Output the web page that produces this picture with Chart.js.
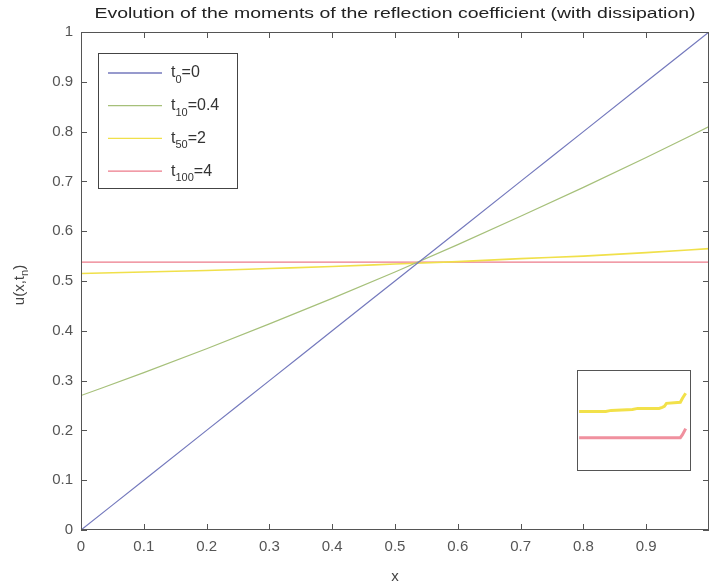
<!DOCTYPE html>
<html>
<head>
<meta charset="utf-8">
<script src="https://cdn.jsdelivr.net/npm/chart.js@4.4.1/dist/chart.umd.min.js"></script>
<style>
  html, body { margin: 0; padding: 0; background: #fff; }
  #wrap { position: relative; width: 709px; height: 588px; overflow: hidden; }
  #main { position: absolute; left: 0; top: 0; }
  #inset { position: absolute; left: 577px; top: 370px; }
</style>
</head>
<body>
<div id="wrap">
  <canvas id="main" width="709" height="588"></canvas>
  <canvas id="inset" width="114" height="101"></canvas>
</div>
<script>
// x positions shared by the main curves
const xGrid = [0, 0.1, 0.2, 0.3, 0.4, 0.5, 0.6, 0.7, 0.8, 0.9, 1];

// u(x, t_n)
const u_t0   = [0, 0.1, 0.2, 0.3, 0.4, 0.5, 0.6, 0.7, 0.8, 0.9, 1];
const u_t10  = [0.27, 0.316, 0.364, 0.414, 0.465, 0.518, 0.573, 0.63, 0.688, 0.748, 0.81];
const u_t50  = [0.515, 0.518, 0.521, 0.525, 0.529, 0.534, 0.539, 0.545, 0.55, 0.557, 0.565];
const u_t100 = [0.538, 0.538, 0.538, 0.538, 0.538, 0.538, 0.538, 0.538, 0.538, 0.538, 0.538];

const seriesSubs  = ['0', '10', '50', '100'];
const seriesTimes = ['0', '0.4', '2', '4'];
const seriesColors = ['#7479bd', '#a6c07a', '#f0e04a', '#ec7a8a'];

const xTicks = [0, 0.1, 0.2, 0.3, 0.4, 0.5, 0.6, 0.7, 0.8, 0.9, 1];
const yTicks = [0, 0.1, 0.2, 0.3, 0.4, 0.5, 0.6, 0.7, 0.8, 0.9, 1];

// zoomed view in the small box (arbitrary units)
const insetX    = [0, 0.25, 0.3, 0.5, 0.55, 0.75, 0.78, 0.8, 0.82, 0.95, 0.97, 1];
const insetT50  = [0.59, 0.59, 0.6, 0.61, 0.62, 0.62, 0.63, 0.64, 0.67, 0.68, 0.72, 0.77];
const insetT100 = [0.33, 0.33, 0.33, 0.33, 0.33, 0.33, 0.33, 0.33, 0.33, 0.33, 0.36, 0.42];

const FONT = '"Liberation Sans", Arial, sans-serif';

function pts(xs, ys) {
  return xs.map((x, i) => ({ x: x, y: ys[i] }));
}

const frame = {
  id: 'frame',
  afterDraw(chart) {
    const ctx = chart.ctx;
    const a = chart.chartArea;
    const xs = chart.scales.x, ys = chart.scales.y;
    ctx.save();
    ctx.strokeStyle = '#555';
    ctx.lineWidth = 1;
    ctx.strokeRect(a.left + 0.5, a.top + 0.5, a.right - a.left - 1, a.bottom - a.top - 1);
    ctx.beginPath();
    xTicks.forEach(v => {
      const px = Math.round(xs.getPixelForValue(v)) + 0.5;
      ctx.moveTo(px, a.bottom); ctx.lineTo(px, a.bottom - 6);
      ctx.moveTo(px, a.top); ctx.lineTo(px, a.top + 6);
    });
    yTicks.forEach(v => {
      const py = Math.round(ys.getPixelForValue(v)) + 0.5;
      ctx.moveTo(a.left, py); ctx.lineTo(a.left + 6, py);
      ctx.moveTo(a.right, py); ctx.lineTo(a.right - 6, py);
    });
    ctx.stroke();

    // title, centred over the plot
    const title = 'Evolution of the moments of the reflection coefficient (with dissipation)';
    ctx.font = '14px ' + FONT;
    ctx.fillStyle = '#222';
    ctx.textBaseline = 'middle';
    ctx.textAlign = 'center';
    const w = ctx.measureText(title).width;
    const sx = 601 / w;
    const cx = (a.left + a.right) / 2;
    ctx.save();
    ctx.translate(cx, 14);
    ctx.scale(sx, 1);
    ctx.fillText(title, 0, 0);
    ctx.restore();

    // axis labels
    ctx.fillStyle = '#444';
    ctx.font = '15px ' + FONT;
    ctx.fillText('x', cx, 577);

    ctx.save();
    ctx.translate(20, (a.top + a.bottom) / 2 + 4);
    ctx.rotate(-Math.PI / 2);
    ctx.textAlign = 'left';
    ctx.font = '15px ' + FONT;
    const p1 = 'u(x,t';
    const w1 = ctx.measureText(p1).width;
    ctx.font = '11px ' + FONT;
    const w2 = ctx.measureText('n').width;
    ctx.font = '15px ' + FONT;
    const w3 = ctx.measureText(')').width;
    let x0 = -(w1 + w2 + w3) / 2;
    ctx.fillText(p1, x0, 0);
    ctx.font = '11px ' + FONT;
    ctx.fillText('n', x0 + w1, 5);
    ctx.font = '15px ' + FONT;
    ctx.fillText(')', x0 + w1 + w2, 0);
    ctx.restore();

    // legend
    const lx = a.left + 17, ly = a.top + 21;
    const lw = 139, lh = 135;
    ctx.fillStyle = '#fff';
    ctx.fillRect(lx, ly, lw, lh);
    ctx.strokeStyle = '#444';
    ctx.strokeRect(lx + 0.5, ly + 0.5, lw, lh);
    chart.data.datasets.forEach((ds, i) => {
      const y = ly + 20 + i * 32.7;
      ctx.strokeStyle = ds.borderColor;
      ctx.lineWidth = 1.3;
      ctx.beginPath();
      ctx.moveTo(lx + 10, y); ctx.lineTo(lx + 64, y);
      ctx.stroke();
      ctx.fillStyle = '#333';
      ctx.textAlign = 'left';
      let tx = lx + 73;
      ctx.font = '16px ' + FONT;
      ctx.fillText('t', tx, y);
      tx += ctx.measureText('t').width;
      ctx.font = '11px ' + FONT;
      ctx.fillText(seriesSubs[i], tx, y + 7);
      tx += ctx.measureText(seriesSubs[i]).width;
      ctx.font = '16px ' + FONT;
      ctx.fillText('=' + seriesTimes[i], tx, y);
    });
    ctx.restore();
  }
};

const seriesData = [u_t0, u_t10, u_t50, u_t100];

new Chart(document.getElementById('main'), {
  type: 'line',
  data: {
    datasets: seriesData.map((ys, i) => ({
      label: 't' + seriesSubs[i] + '=' + seriesTimes[i],
      data: pts(xGrid, ys),
      borderColor: seriesColors[i],
      borderWidth: i === 2 ? 1.6 : 1.2,
      pointRadius: 0,
      cubicInterpolationMode: 'monotone',
      fill: false
    }))
  },
  options: {
    responsive: false,
    animation: false,
    devicePixelRatio: 1,
    layout: { padding: { top: 32, right: 0, left: 0, bottom: 0 } },
    plugins: { legend: { display: false }, tooltip: { enabled: false }, title: { display: false } },
    scales: {
      x: {
        type: 'linear', min: 0, max: 1,
        afterBuildTicks: s => { s.ticks = xTicks.slice(0, 10).map(v => ({ value: v })); },
        afterFit: s => { s.height = 58; },
        grid: { drawOnChartArea: false, drawTicks: false },
        border: { display: false },
        ticks: { padding: 8, color: '#555', font: { family: FONT, size: 15 }, maxRotation: 0,
                 callback: v => String(v) }
      },
      y: {
        type: 'linear', min: 0, max: 1,
        afterBuildTicks: s => { s.ticks = yTicks.map(v => ({ value: v })); },
        afterFit: s => { s.width = 81; },
        grid: { drawOnChartArea: false, drawTicks: false },
        border: { display: false },
        ticks: { padding: 8, color: '#555', font: { family: FONT, size: 15 },
                 callback: v => String(v) }
      }
    }
  },
  plugins: [frame]
});

const insetFrame = {
  id: 'insetFrame',
  afterDraw(chart) {
    const ctx = chart.ctx;
    ctx.save();
    ctx.strokeStyle = '#555';
    ctx.lineWidth = 1;
    ctx.strokeRect(0.5, 0.5, chart.width - 1, chart.height - 1);
    ctx.restore();
  }
};

new Chart(document.getElementById('inset'), {
  type: 'line',
  data: {
    datasets: [
      { data: pts(insetX, insetT50), borderColor: '#f2e14a', borderWidth: 3, pointRadius: 0 },
      { data: pts(insetX, insetT100), borderColor: '#f0909e', borderWidth: 3, pointRadius: 0 }
    ]
  },
  options: {
    responsive: false,
    animation: false,
    devicePixelRatio: 1,
    layout: { padding: 0 },
    plugins: { legend: { display: false }, tooltip: { enabled: false } },
    scales: {
      x: { type: 'linear', min: -0.02, max: 1.05, display: false },
      y: { type: 'linear', min: 0, max: 1, display: false }
    }
  },
  plugins: [insetFrame]
});
</script>
</body>
</html>
